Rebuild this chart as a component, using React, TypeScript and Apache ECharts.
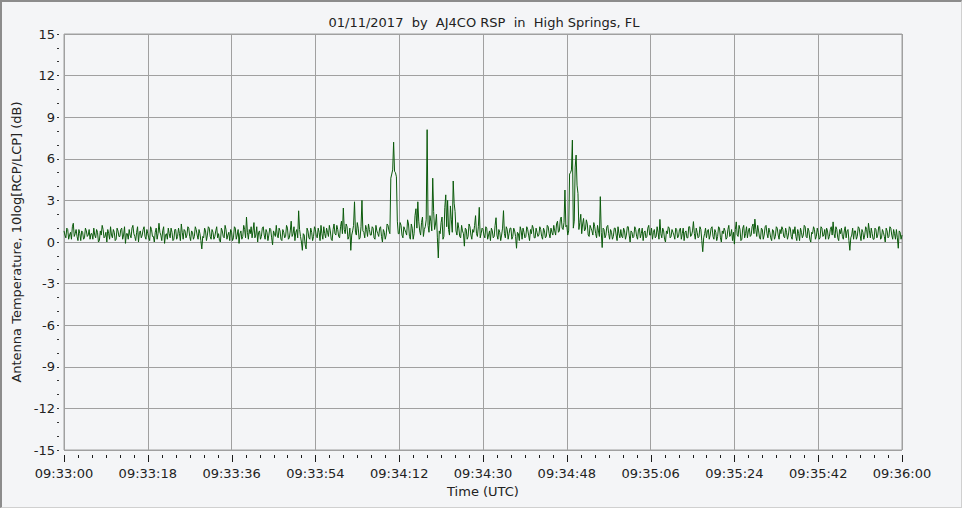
import React, { useEffect, useRef } from "react";
import * as echarts from "echarts";

// sample spacing in seconds from 09:33:00
const SAMPLE_STEP = 0.2;
const START_LABEL_H = 9;
const START_LABEL_M = 33;
const X_MAJOR = 18;
const X_MINOR = 3;
const X_MAX = 180;

const titleText = "01/11/2017  by  AJ4CO RSP  in  High Springs, FL";
const yAxisName = "Antenna Temperature, 10log[RCP/LCP] (dB)";
const xAxisName = "Time (UTC)";

// Antenna temperature ratio (dB): samples at whole 0.4 s steps ...
const seg0 = [0.8, 0.3, 0.9, 0.5, 0.2, 1.35, 0.6, 0.4, 0.9, 0.1, 0.7, 0.3, 0.8, 0.5, 0.2];
const seg1 = [0.6, 1.0, 0.3, 0.7, 0.1, 0.5, 0.9, 0.4, 0.0, 0.6, 1.1, 0.3, 0.7, 0.2, 0.8];
const seg2 = [0.4, 1.0, 0.5, -0.1, 0.6, 0.9, 0.3, 1.2, 0.4, 0.7, 0.0, 0.8, 0.5, 1.1, 0.2];
const seg3 = [0.6, 0.1, 0.9, 0.4, 0.7, 0.2, 1.35, 0.5, 0.8, -0.1, 0.6, 1.0, 0.3, 0.7, 0.2];
const seg4 = [0.9, 0.4, 0.6, 1.3, 0.2, 0.8, 0.5, 1.0, 0.1, 0.7, 0.4, 0.9, 0.2, 0.6, -0.5];
const seg5 = [0.3, 0.8, 0.5, 1.0, 0.2, 0.7, 0.4, 1.1, 0.6, 0.0, 0.8, 0.3, 0.9, 0.5, 0.1];
const seg6 = [0.7, 0.3, 1.0, 0.5, -0.1, 0.8, 0.4, 0.9, 1.8, 0.2, 0.6, 0.3, 1.4, 0.5, 0.0];
const seg7 = [0.8, 0.4, 1.1, 0.2, 0.7, 0.5, 0.9, -0.2, 0.6, 1.2, 0.3, 0.8, 0.1, 0.7, 0.4];
const seg8 = [1.0, 0.3, 1.5, 0.6, 0.1, 0.9, 2.25, 0.4, -0.6, 0.5, -0.5, 0.8, 0.2, 0.7, 0.4];
const seg9 = [0.9, 0.3, 0.7, 1.2, 0.2, 0.6, 1.0, 0.4, 0.8, 0.1, 1.3, 0.5, 0.9, 0.3, 1.5];
const seg10 = [2.45, 0.6, 1.1, 0.4, -0.6, 0.8, 2.9, 0.5, 1.0, 0.3, 3.0, 0.7, 1.2, 0.4, 0.9];
const seg11 = [0.5, 1.0, 0.2, 0.8, 0.4, 1.1, 0.0, 0.7, 0.5, 1.2, 0.6, 4.9, 7.2, 5.0, 1.5];
const seg12 = [0.6, 1.2, 0.3, 0.9, 0.5, 1.3, 0.2, 1.0, 0.6, 2.4, 2.9, 0.8, 1.4, 0.4, 1.1];
const seg13 = [8.1, 0.7, 1.5, 4.6, 0.9, 2.0, -1.15, 0.6, 1.8, 0.4, 3.4, 3.0, 0.5, 1.6, 4.4];
const seg14 = [2.2, 0.5, 1.0, 0.3, 0.8, -0.3, 0.9, 0.4, 1.1, 0.2, 0.7, 1.9, 0.4, 2.5, 0.6];
const seg15 = [0.9, 0.3, 1.0, 0.5, 0.1, 0.8, 0.4, 1.75, 0.2, 0.7, 0.5, 2.26, 0.3, 0.9, 0.6];
const seg16 = [1.0, 0.4, 0.8, -0.45, 0.6, 1.1, 0.2, 0.7, 0.4, 0.9, 0.1, 0.6, 1.0, 0.3, 0.7];
const seg17 = [0.5, 0.9, 0.2, 0.8, 0.4, 1.1, 0.3, 0.7, 1.2, 0.5, 1.5, 0.8, 1.8, 0.9, 3.75];
const seg18 = [1.2, 0.8, 5.0, 7.35, 1.5, 6.27, 3.5, 1.4, 0.6, 1.7, 0.9, 1.3, 0.4, 1.0, 0.5];
const seg19 = [1.1, 0.3, 0.8, 3.27, -0.4, 0.9, 0.5, 1.2, 0.2, 0.7, 0.4, 1.0, 0.1, 0.6, 0.9];
const seg20 = [0.3, 0.8, 0.5, 1.1, 0.0, 0.7, 0.4, 0.9, 0.2, 1.0, 0.6, 0.1, 0.8, 0.4, 1.2];
const seg21 = [0.5, 0.2, 0.9, 0.4, 0.7, 1.63, 0.3, 0.8, 0.0, 0.6, 1.0, 0.4, 0.7, 0.2, 0.9];
const seg22 = [0.4, 1.0, 0.6, 0.1, 0.8, 0.3, 1.1, 0.5, 1.47, 0.2, 0.7, 0.4, 0.9, -0.7, 0.6];
const seg23 = [0.3, 0.9, 0.5, 1.1, 0.2, 0.7, 0.4, 1.0, 0.0, 0.6, 0.8, 0.3, 1.2, 0.5, 0.1];
const seg24 = [-0.15, 1.45, 0.4, 0.9, 0.2, 1.2, 0.6, 0.3, 1.0, 0.5, 1.3, 1.65, 0.4, 0.8, 0.2];
const seg25 = [0.9, 0.5, 1.2, 0.3, 0.7, 0.1, 0.8, 0.4, 1.0, 0.2, 0.6, 0.9, 0.3, 0.7, 0.5];
const seg26 = [1.0, 0.2, 0.6, 0.4, 0.9, 0.1, 0.7, 0.5, 1.1, 0.3, 0.8, 0.0, 0.6, 0.9, 0.4];
const seg27 = [0.7, 0.3, 1.0, 0.5, 0.2, 0.8, 0.4, 1.1, 1.45, 0.3, 0.9, 0.1, 0.6, 0.4, 0.8];
const seg28 = [0.3, 0.9, -0.6, 0.5, 0.2, 0.8, 0.4, 1.0, 0.1, 0.7, 0.5, 0.9, 1.35, 0.3, 0.6];
const seg29 = [0.2, 0.9, 0.5, 1.1, 0.3, 0.7, 0.0, 0.8, 0.4, 1.0, 0.2, 0.6, 0.9, -0.45, 0.7];
const segLast = [0.5];

// ... and the samples taken 0.2 s after each of those
const mid0 = [0.5, 1.0, 0.2, 0.7, 1.1, 0.4, 0.9, 0.1, 0.6, 0.8, 0.2, 1.0, 0.4, 0.9, 0.6];
const mid1 = [0.2, 0.5, 0.9, 0.0, 0.8, 1.2, 0.3, 0.7, 0.9, 0.2, 0.5, 0.9, 0.1, 1.0, 0.4];
const mid2 = [0.9, 0.2, 1.1, 0.6, 0.2, 0.5, 1.0, 0.6, 0.1, 1.1, 0.7, 0.3, 0.9, 0.4, 0.9];
const mid3 = [0.3, 1.1, 0.4, 0.0, 1.0, 0.6, 0.7, 0.1, 1.1, 0.5, 0.2, 0.6, 1.0, 0.1, 0.9];
const mid4 = [0.2, 1.0, 0.1, 0.7, 0.9, 0.3, 1.1, 0.4, 0.8, 0.2, 1.1, 0.5, 0.9, 0.1, 0.4];
const mid5 = [1.0, 0.1, 1.1, 0.4, 0.9, 0.2, 0.8, 0.3, 0.1, 1.0, 0.4, 1.2, 0.2, 0.7, 0.9];
const mid6 = [0.1, 1.1, 0.2, 0.9, 0.6, 0.2, 1.2, 0.3, 0.7, 0.9, 1.1, 0.8, 0.3, 1.1, 0.7];
const mid7 = [0.2, 1.0, 0.5, 0.9, 0.1, 1.0, 0.3, 0.8, 0.4, 0.5, 1.0, 0.2, 0.9, 0.3, 1.2];
const mid8 = [0.2, 0.8, 0.4, 1.1, 0.7, 0.3, 0.9, 0.0, 0.6, -0.2, 1.0, 0.3, 1.0, 0.1, 1.1];
const mid9 = [0.4, 1.0, 0.1, 0.6, 1.1, 0.3, 0.7, 1.2, 0.2, 0.9, 0.6, 1.2, 0.4, 1.1, 0.6];
const mid10 = [0.9, 1.3, 0.2, 1.0, 0.5, 1.2, 0.7, 1.4, 0.2, 1.1, 0.8, 0.3, 0.9, 1.3, 0.5];
const mid11 = [1.1, 0.3, 1.2, 0.6, 1.0, 0.4, 0.9, 0.2, 1.3, 0.8, 4.6, 5.2, 5.1, 4.7, 0.6];
const mid12 = [1.4, 0.5, 1.1, 0.7, 1.6, 0.4, 1.3, 0.2, 1.9, 1.0, 1.5, 0.5, 1.8, 0.9, 1.6];
const mid13 = [1.2, 1.9, 0.8, 2.2, 1.3, 0.3, 0.8, 1.4, 0.2, 2.5, 1.1, 0.9, 2.6, 0.7, 2.8];
const mid14 = [0.8, 1.4, 0.4, 1.2, 0.6, 1.0, 0.2, 1.3, 0.5, 0.9, 1.2, 0.6, 1.1, 0.3, 1.0];
const mid15 = [0.5, 1.1, 0.2, 0.8, 1.0, 0.3, 1.2, 0.5, 0.9, 0.1, 1.0, 0.6, 1.1, 0.2, 1.0];
const mid16 = [0.2, 1.0, 0.4, 0.7, 0.1, 0.8, 1.0, 0.3, 1.1, 0.5, 0.9, 1.2, 0.3, 1.0, 0.4];
const mid17 = [1.1, 0.4, 1.0, 0.3, 1.2, 0.6, 1.0, 0.5, 0.8, 1.3, 0.7, 1.6, 1.0, 1.4, 1.1];
const mid18 = [0.5, 4.9, 5.2, 1.0, 5.4, 4.1, 0.9, 2.0, 1.3, 0.8, 1.6, 0.5, 1.2, 0.8, 1.4];
const mid19 = [0.6, 1.2, 0.4, 0.7, 1.0, 0.3, 1.1, 0.6, 0.9, 0.2, 1.0, 0.5, 1.1, 0.3, 0.4];
const mid20 = [1.0, 0.2, 1.1, 0.5, 0.8, 0.3, 1.1, 0.4, 0.9, 0.3, 1.0, 0.7, 0.3, 1.0, 0.5];
const mid21 = [1.0, 0.7, 0.3, 1.1, 0.2, 0.6, 1.0, 0.2, 0.8, 1.1, 0.3, 0.9, 0.5, 1.0, 0.3];
const mid22 = [0.9, 0.2, 1.0, 0.7, 0.3, 1.1, 0.4, 0.8, 0.6, 1.0, 0.3, 1.1, 0.1, 0.3, 1.0];
const mid23 = [0.8, 0.2, 1.0, 0.4, 0.9, 0.1, 1.1, 0.3, 0.8, 1.0, 0.2, 0.9, 0.4, 0.9, 0.7];
const mid24 = [0.9, 0.5, 1.2, 0.1, 1.0, 0.3, 1.1, 0.8, 0.4, 1.1, 0.6, 0.9, 1.2, 0.3, 1.0];
const mid25 = [0.2, 1.1, 0.6, 1.0, 0.3, 0.9, 0.2, 1.1, 0.5, 0.9, 1.1, 0.4, 1.0, 0.2, 1.1];
const mid26 = [0.4, 0.9, 1.1, 0.1, 0.6, 1.0, 0.3, 1.2, 0.4, 1.0, 0.2, 0.7, 1.1, 0.2, 1.0];
const mid27 = [0.2, 1.1, 0.4, 0.9, 1.0, 0.2, 0.9, 0.5, 0.6, 1.1, 0.3, 0.9, 1.0, 0.2, 1.1];
const mid28 = [0.8, 0.1, 0.3, 1.0, 0.8, 0.2, 1.1, 0.5, 0.9, 0.2, 1.1, 0.3, 0.8, 1.0, 0.2];
const mid29 = [1.0, 0.3, 1.1, 0.2, 0.9, 0.4, 1.0, 0.3, 1.1, 0.5, 0.9, 0.2, 0.3, 0.8, 0.2];

const mainSamples: number[] = [
  ...seg0, ...seg1, ...seg2, ...seg3, ...seg4, ...seg5, ...seg6, ...seg7, ...seg8, ...seg9,
  ...seg10, ...seg11, ...seg12, ...seg13, ...seg14, ...seg15, ...seg16, ...seg17, ...seg18, ...seg19,
  ...seg20, ...seg21, ...seg22, ...seg23, ...seg24, ...seg25, ...seg26, ...seg27, ...seg28, ...seg29,
];
const midSamples: number[] = [
  ...mid0, ...mid1, ...mid2, ...mid3, ...mid4, ...mid5, ...mid6, ...mid7, ...mid8, ...mid9,
  ...mid10, ...mid11, ...mid12, ...mid13, ...mid14, ...mid15, ...mid16, ...mid17, ...mid18, ...mid19,
  ...mid20, ...mid21, ...mid22, ...mid23, ...mid24, ...mid25, ...mid26, ...mid27, ...mid28, ...mid29,
];

const values: number[] = [];
mainSamples.forEach((v, i) => {
  values.push(v);
  values.push(midSamples[i]);
});
values.push(...segLast);

// positions of the time-axis tick marks (seconds after 09:33:00)
const tickTimes: number[] = [];
for (let t = 0; t <= X_MAX; t += X_MINOR) tickTimes.push(t);

const pad = (n: number) => (n < 10 ? "0" + n : "" + n);
const fmtTime = (sec: number) => {
  const total = START_LABEL_H * 3600 + START_LABEL_M * 60 + Math.round(sec);
  const h = Math.floor(total / 3600);
  const m = Math.floor((total % 3600) / 60);
  const s = total % 60;
  return pad(h) + ":" + pad(m) + ":" + pad(s);
};

export default function App() {
  const ref = useRef<HTMLDivElement>(null);
  useEffect(() => {
    document.body.style.margin = "0";
    if (!ref.current) return;
    const chart = echarts.init(ref.current, undefined, { renderer: "svg" });
    const font = "'DejaVu Sans', Verdana, sans-serif";
    const data = values.map((v, i) => [+(i * SAMPLE_STEP).toFixed(2), v]);
    chart.setOption({
      animation: false,
      backgroundColor: "#f4f5f7",
      title: {
        text: titleText,
        left: 479,
        top: 11,
        textAlign: "center",
        textStyle: { fontFamily: font, fontSize: 13, fontWeight: "normal", color: "#222" },
      },
      grid: {
        left: 64,
        right: 60,
        top: 34,
        bottom: 58,
        show: true,
        borderColor: "#a0a0a0",
        borderWidth: 1,
      },
      xAxis: {
        type: "value",
        min: 0,
        max: X_MAX,
        interval: X_MAJOR,
        offset: 5,
        name: xAxisName,
        nameLocation: "middle",
        nameGap: 30,
        nameTextStyle: { fontFamily: font, fontSize: 13, color: "#222" },
        axisLine: { show: false, onZero: false },
        axisTick: { show: false },
        minorTick: { show: false },
        axisLabel: { fontFamily: font, fontSize: 13, color: "#222", margin: 12, formatter: (v: number) => fmtTime(v) },
        splitLine: { show: true, lineStyle: { color: "#a0a0a0", width: 1 } },
      },
      yAxis: {
        type: "value",
        min: -15,
        max: 15,
        interval: 3,
        offset: 5,
        name: yAxisName,
        nameLocation: "middle",
        nameGap: 31,
        nameTextStyle: { fontFamily: font, fontSize: 13, color: "#222" },
        axisLine: { show: true, onZero: false, lineStyle: { color: "rgba(0,0,0,0)" } },
        axisTick: { show: true, length: 2, lineStyle: { color: "#333" } },
        minorTick: { show: true, splitNumber: 3, length: 2, lineStyle: { color: "#333" } },
        axisLabel: { fontFamily: font, fontSize: 13, color: "#222", margin: 4 },
        splitLine: { show: true, lineStyle: { color: "#a0a0a0", width: 1 } },
      },
      series: [
        {
          type: "line",
          data,
          showSymbol: false,
          symbol: "none",
          lineStyle: { color: "#0b5a0b", width: 1 },
          silent: true,
          z: 3,
        },
        {
          // tick marks below the time axis, placed through the x scale
          type: "custom",
          silent: true,
          clip: false,
          z: 4,
          data: tickTimes.map((t) => [t, -15]),
          renderItem: (params: any, api: any) => {
            const t = api.value(0);
            const p = api.coord([t, -15]);
            const x = Math.round(p[0]) + 0.5;
            const y0 = Math.round(p[1]) + 5;
            const len = Math.abs(t % X_MAJOR) < 1e-6 ? 7 : 3;
            return {
              type: "line",
              shape: { x1: x, y1: y0, x2: x, y2: y0 + len },
              style: { stroke: "#1a1a1a", lineWidth: 1 },
            };
          },
        },
      ],
    });
    return () => chart.dispose();
  }, []);
  return (
    <div style={{ position: "relative", width: 962, height: 508 }}>
      <div ref={ref} style={{ width: 962, height: 508 }} />
      <div
        style={{
          position: "absolute",
          left: 0,
          top: 0,
          width: 962,
          height: 508,
          boxSizing: "border-box",
          borderTop: "2px solid #8c8c8c",
          borderLeft: "2px solid #8c8c8c",
          borderRight: "1px solid #d0d0d0",
          borderBottom: "1px solid #d0d0d0",
          pointerEvents: "none",
        }}
      />
    </div>
  );
}
